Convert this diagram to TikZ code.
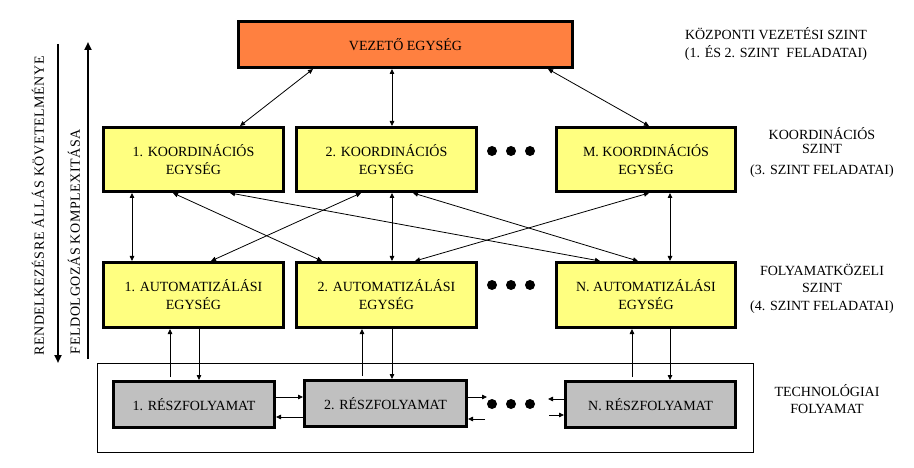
\documentclass[tikz,border=0pt]{standalone}
\usepackage{fontspec}
\setmainfont{Liberation Serif}
\usetikzlibrary{arrows.meta}
\definecolor{orng}{HTML}{FF8040}
\definecolor{ylw}{HTML}{FFFF80}
\definecolor{gry}{HTML}{C0C0C0}
\begin{document}
\begin{tikzpicture}[x=1pt,y=-1pt,
  txt/.style={font=\fontsize{14}{18}\selectfont, align=center, inner sep=0pt},
  box/.style={draw, line width=3pt, txt},
  unit/.style={box, fill=ylw, minimum width=180pt, minimum height=64pt},
  proc/.style={box, fill=gry, minimum height=46pt},
  tip/.style={Triangle[length=5pt,width=4.5pt]},
  arr/.style={line width=0.8pt, -{Triangle[length=5pt,width=4.5pt]}},
  darr/.style={line width=0.8pt, {Triangle[length=5pt,width=4.5pt]}-{Triangle[length=5pt,width=4.5pt]}},
  bigarr/.style={line width=2pt, -{Triangle[length=8pt,width=7pt]}},
  bdot/.style={circle, fill=black, minimum size=10pt, inner sep=0pt}
]
\useasboundingbox (0,0) rectangle (914,468);

% container of the technological process
\node[draw, line width=0.8pt, minimum width=656pt, minimum height=89pt, inner sep=0pt] (cont) at (425.5,408) {};

% top unit
\node[box, fill=orng, minimum width=334pt, minimum height=46pt] (vez) at (405.5,44.5) {VEZETŐ EGYSÉG};

% coordination units
\node[unit] (k1) at (193.5,159.5) {1. KOORDINÁCIÓS\\EGYSÉG};
\node[unit] (k2) at (386.5,159.5) {2. KOORDINÁCIÓS\\EGYSÉG};
\node[unit, minimum width=179pt] (km) at (646,159.5) {M. KOORDINÁCIÓS\\EGYSÉG};

% automation units
\node[unit, minimum height=65pt] (a1) at (193.5,295) {1. AUTOMATIZÁLÁSI\\EGYSÉG};
\node[unit, minimum height=65pt] (a2) at (386.5,295) {2. AUTOMATIZÁLÁSI\\EGYSÉG};
\node[unit, minimum height=65pt, minimum width=179pt] (an) at (646,295) {N. AUTOMATIZÁLÁSI\\EGYSÉG};

% sub-processes
\node[proc, minimum width=161pt] (p1) at (194,404.5) {1. RÉSZFOLYAMAT};
\node[proc, minimum width=162pt] (p2) at (385.5,403.5) {2. RÉSZFOLYAMAT};
\node[proc, minimum width=170pt] (pn) at (650.5,404.5) {N. RÉSZFOLYAMAT};

% ellipsis dots
\node[bdot] (dk1) at (492,151) {};
\node[bdot] (dk2) at (511,151) {};
\node[bdot] (dk3) at (530,151) {};
\node[bdot] (da1) at (492,285) {};
\node[bdot] (da2) at (511,285) {};
\node[bdot] (da3) at (530,285) {};
\node[bdot] (dp1) at (492,404) {};
\node[bdot] (dp2) at (511,404) {};
\node[bdot] (dp3) at (530,404) {};

% right-hand labels
\node[txt] (l1) at (776,44) {KÖZPONTI VEZETÉSI SZINT\\(1. ÉS 2. SZINT~ FELADATAI)};
\node[txt] (l2) at (822,152.5) {KOORDINÁCIÓS\\[-4pt]SZINT\\[3pt](3. SZINT FELADATAI)};
\node[txt] (l3) at (822,289) {FOLYAMATKÖZELI\\[-1pt]SZINT\\(4. SZINT FELADATAI)};
\node[txt] (l4) at (827,399) {TECHNOLÓGIAI\\[-1pt]FOLYAMAT};

% left-hand vertical labels and arrows
\node[txt, rotate=90] (r1) at (38,206) {\addfontfeature{LetterSpace=4}RENDELKEZÉSRE ÁLLÁS KÖVETELMÉNYE};
\node[txt, rotate=90] (r2) at (74,241.5) {\addfontfeature{LetterSpace=4}FELDOLGOZÁS KOMPLEXITÁSA};
\coordinate (la1) at (58,44);
\coordinate (la2) at (58,363);
\coordinate (lb1) at (88,359);
\coordinate (lb2) at (88,42);
\draw[bigarr] (la1) -- (la2);
\draw[bigarr] (lb1) -- (lb2);

% top unit <-> coordination units
\draw[darr] ([xshift=76pt]vez.south west) -- ([xshift=138pt]k1.north west);
\draw[darr] ([xshift=155pt]vez.south west) -- ([xshift=97pt]k2.north west);
\draw[darr] ([xshift=311pt]vez.south west) -- ([xshift=94pt]km.north west);

% coordination <-> automation
\draw[darr] ([xshift=30pt]k1.south west) -- ([xshift=30pt]a1.north west);
\draw[darr] ([xshift=71pt]k1.south west) -- ([xshift=27pt]a2.north west);
\draw[darr] ([xshift=128pt]k1.south west) -- ([xshift=45pt]an.north west);
\draw[darr] ([xshift=66pt]k2.south west) -- ([xshift=109pt]a1.north west);
\draw[darr] ([xshift=97pt]k2.south west) -- ([xshift=97pt]a2.north west);
\draw[darr] ([xshift=118pt]k2.south west) -- ([xshift=83pt]an.north west);
\draw[darr] ([xshift=94pt]km.south west) -- ([xshift=120pt]a2.north west);
\draw[darr] ([xshift=115pt]km.south west) -- ([xshift=115pt]an.north west);

% automation <-> sub-processes
\draw[arr] ([xshift=58pt,yshift=3pt]p1.north west) -- ([xshift=68pt]a1.south west);
\draw[arr] ([xshift=97pt]a1.south west) -- ([xshift=87pt]p1.north west);
\draw[arr] ([xshift=59pt,yshift=3pt]p2.north west) -- ([xshift=67pt]a2.south west);
\draw[arr] ([xshift=97pt]a2.south west) -- ([xshift=89pt]p2.north west);
\draw[arr] ([xshift=68pt,yshift=3pt]pn.north west) -- ([xshift=77pt]an.south west);
\draw[arr] ([xshift=115pt]an.south west) -- ([xshift=106pt]pn.north west);

% sub-process interconnections
\draw[arr] ([yshift=7.5pt]p1.east) -- ([yshift=7.5pt]p1.east -| p2.west);
\draw[arr] ([yshift=-12.5pt]p1.east -| p2.west) -- ([yshift=-12.5pt]p1.east);
\coordinate (q1) at (487,397);
\coordinate (q2) at (485,419);
\coordinate (q3) at (548,399);
\coordinate (q4) at (549,415);
\draw[arr] ([yshift=6.5pt]p2.east) -- (q1);
\draw[arr] (q2) -- (q2 -| p2.east);
\draw[arr] (q3 -| pn.west) -- (q3);
\draw[arr] (q4) -- (q4 -| pn.west);
\end{tikzpicture}
\end{document}
